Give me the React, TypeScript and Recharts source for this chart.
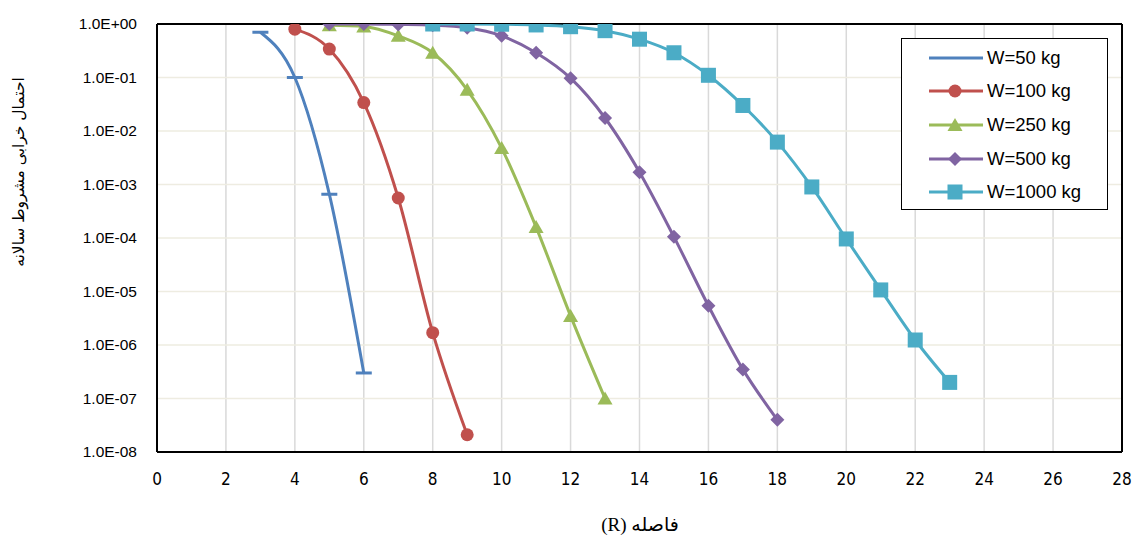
import { LineChart, Line, XAxis, YAxis, CartesianGrid, Legend, ReferenceLine } from 'recharts';

// distance R and annual conditional failure probability, one pair of arrays per charge weight
const w50X = [3, 4, 5, 6];
const w50Y = [0.7, 0.1, 6.6e-4, 3.0e-7];

const w100X = [4, 5, 6, 7, 8, 9];
const w100Y = [0.8, 0.34, 0.034, 5.6e-4, 1.7e-6, 2.1e-8];

const w250X = [5, 6, 7, 8, 9, 10, 11, 12, 13];
const w250Y = [0.95, 0.9, 0.6, 0.29, 0.059, 4.8e-3, 1.6e-4, 3.5e-6, 1.0e-7];

const w500X = [5, 6, 7, 8, 9, 10, 11, 12, 13, 14, 15, 16, 17, 18];
const w500Y = [1.0, 1.0, 0.98, 0.95, 0.85, 0.6, 0.29, 0.097, 0.0175, 1.7e-3, 1.05e-4, 5.4e-6, 3.5e-7, 4.0e-8];

const w1000X = [8, 9, 10, 11, 12, 13, 14, 15, 16, 17, 18, 19, 20, 21, 22, 23];
const w1000Y = [1.0, 1.0, 0.99, 0.96, 0.89, 0.75, 0.52, 0.29, 0.11, 0.03, 6.2e-3, 9.0e-4, 9.6e-5, 1.07e-5, 1.24e-6, 2.0e-7];

const xTicks = [0, 2, 4, 6, 8, 10, 12, 14, 16, 18, 20, 22, 24, 26, 28];
const yTicks = [1e-8, 1e-7, 1e-6, 1e-5, 1e-4, 1e-3, 1e-2, 1e-1, 1];

const xTitle = 'فاصله  (R)';
const yTitle = 'احتمال خرابی مشروط سالانه';

const series = [
  { key: 'w50', name: 'W=50 kg', color: '#4f81bd', marker: 'dash', xs: w50X, ys: w50Y },
  { key: 'w100', name: 'W=100 kg', color: '#c0504d', marker: 'circle', xs: w100X, ys: w100Y },
  { key: 'w250', name: 'W=250 kg', color: '#9bbb59', marker: 'triangle', xs: w250X, ys: w250Y },
  { key: 'w500', name: 'W=500 kg', color: '#8064a2', marker: 'diamond', xs: w500X, ys: w500Y },
  { key: 'w1000', name: 'W=1000 kg', color: '#4bacc6', marker: 'square', xs: w1000X, ys: w1000Y },
];

// one row per distance, a column per series (missing where that series has no point)
const allR = Array.from(new Set(series.flatMap((s) => s.xs))).sort((a, b) => a - b);
const rows = allR.map((r) => {
  const row: Record<string, number | undefined> = { r };
  series.forEach((s) => {
    const i = s.xs.indexOf(r);
    row[s.key] = i >= 0 ? s.ys[i] : undefined;
  });
  return row;
});

const sansFont = '"Liberation Sans", Arial, sans-serif';
const narrowFont = '"Liberation Sans Narrow", "DejaVu Sans Condensed", sans-serif';
const frame = { stroke: '#000', strokeWidth: 2 };

function fmtExp(v: number) {
  const e = Math.round(Math.log10(v));
  const sign = e < 0 ? '-' : '+';
  const abs = Math.abs(e);
  return `1.0E${sign}${abs < 10 ? '0' + abs : abs}`;
}

// inner grid lines only, so the frame is not painted over
const innerX = xTicks.slice(1, -1);
const innerY = yTicks.slice(1, -1);

function verticalGrid({ offset }: any) {
  return innerX.map((t) => offset.left + (t / 28) * offset.width);
}

function horizontalGrid({ offset }: any) {
  return innerY.map((t) => offset.top + offset.height * (-Math.log10(t) / 8));
}

function XTick(props: any) {
  const { x, y, payload } = props;
  return (
    <text x={x} y={y + 25} textAnchor="middle" fontSize={17} fontFamily={narrowFont} fill="#000">
      {payload.value}
    </text>
  );
}

function YTick(props: any) {
  const { y, payload } = props;
  return (
    <text x={137} y={y + 5} textAnchor="end" fontSize={15.5} fontFamily={sansFont} fill="#000">
      {fmtExp(payload.value)}
    </text>
  );
}

function markerShape(kind: string, cx: number, cy: number, color: string, key?: string) {
  if (cx == null || cy == null || Number.isNaN(cy)) return <g key={key} />;
  switch (kind) {
    case 'dash':
      return <line key={key} x1={cx - 8} x2={cx + 8} y1={cy} y2={cy} stroke={color} strokeWidth={3} />;
    case 'circle':
      return <circle key={key} cx={cx} cy={cy} r={6.5} fill={color} />;
    case 'triangle':
      return <polygon key={key} points={`${cx},${cy - 7} ${cx + 7.5},${cy + 6} ${cx - 7.5},${cy + 6}`} fill={color} />;
    case 'diamond':
      return <polygon key={key} points={`${cx},${cy - 7} ${cx + 7},${cy} ${cx},${cy + 7} ${cx - 7},${cy}`} fill={color} />;
    default:
      return <rect key={key} x={cx - 7.5} y={cy - 7.5} width={15} height={15} fill={color} />;
  }
}

function LegendBox() {
  return (
    <div
      style={{
        border: '1.5px solid #000',
        background: '#fff',
        width: 207,
        height: 172,
        boxSizing: 'border-box',
        paddingTop: 2,
        fontFamily: sansFont,
        fontSize: 18.5,
        color: '#000',
      }}
    >
      {series.map((s) => (
        <div key={s.name} style={{ display: 'flex', alignItems: 'center', height: 33.6 }}>
          <svg width={56} height={20} style={{ marginLeft: 26, marginRight: 3 }}>
            <line x1={1} x2={55} y1={10} y2={10} stroke={s.color} strokeWidth={3} />
            {s.marker === 'dash' ? null : markerShape(s.marker, 27, 10, s.color)}
          </svg>
          <span>{s.name}</span>
        </div>
      ))}
    </div>
  );
}

export default function App() {
  return (
    <div style={{ position: 'absolute', left: 0, top: 0, background: '#fff' }}>
      <LineChart width={1135} height={536} data={rows} margin={{ top: 24, right: 13, bottom: 0, left: 0 }}>
        <CartesianGrid horizontal={false} stroke="#d9d9d9" strokeWidth={1.5} verticalCoordinatesGenerator={verticalGrid} />
        <CartesianGrid vertical={false} stroke="#eeece1" strokeWidth={1.5} horizontalCoordinatesGenerator={horizontalGrid} />
        <XAxis
          type="number"
          dataKey="r"
          domain={[0, 28]}
          ticks={xTicks}
          height={84}
          axisLine={frame}
          tickLine={false}
          tick={<XTick />}
          label={{
            content: () => (
              <text
                x={640}
                y={531}
                textAnchor="middle"
                fontSize={19}
                fontFamily='"Liberation Serif", "DejaVu Sans", serif'
                fill="#000"
                style={{ direction: 'rtl', unicodeBidi: 'embed' }}
              >
                {xTitle}
              </text>
            ),
          }}
        />
        <YAxis
          type="number"
          scale="log"
          domain={[1e-8, 1]}
          ticks={yTicks}
          allowDataOverflow
          width={157}
          axisLine={frame}
          tickLine={false}
          tick={<YTick />}
          label={{
            content: () => (
              <text
                x={19}
                y={172}
                transform="rotate(-90 19 172)"
                textAnchor="middle"
                dominantBaseline="central"
                fontSize={15.5}
                fontFamily='"DejaVu Sans", sans-serif'
                fill="#000"
              >
                {yTitle}
              </text>
            ),
          }}
        />
        <ReferenceLine x={0} stroke="#000" strokeWidth={2} />
        <ReferenceLine x={28} stroke="#000" strokeWidth={2} />
        <ReferenceLine y={1} stroke="#000" strokeWidth={2} />
        <ReferenceLine y={1e-8} stroke="#000" strokeWidth={2} />
        <Legend
          layout="vertical"
          verticalAlign="middle"
          align="center"
          content={() => <LegendBox />}
          wrapperStyle={{ position: 'absolute', left: 901, top: 38, width: 207, height: 172 }}
        />
        {series.map((s) => (
          <Line
            key={s.key}
            name={s.name}
            dataKey={s.key}
            type="monotone"
            stroke={s.color}
            strokeWidth={3}
            isAnimationActive={false}
            dot={(props: any) => markerShape(s.marker, props.cx, props.cy, s.color, `${s.key}-${props.index}`)}
            activeDot={false}
          />
        ))}
      </LineChart>
    </div>
  );
}
